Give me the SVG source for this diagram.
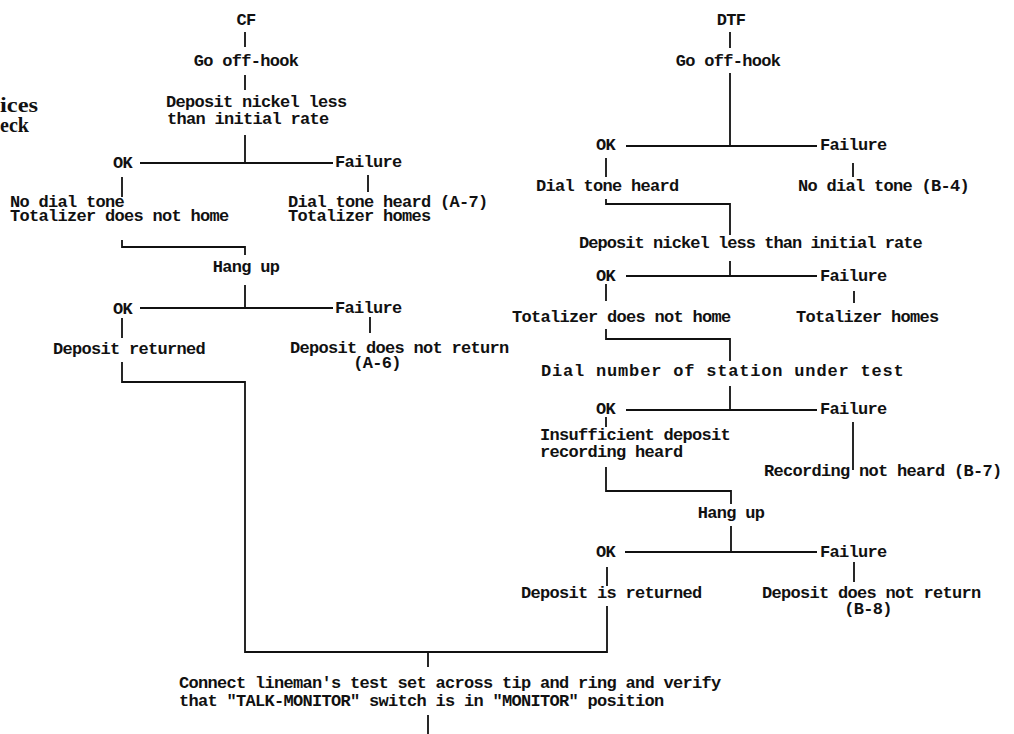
<svg xmlns="http://www.w3.org/2000/svg" width="1014" height="734" viewBox="0 0 1014 734">
<style>
text{font-family:"Liberation Mono","DejaVu Sans Mono",monospace;font-size:17px;letter-spacing:-0.7px;fill:#111;font-weight:bold}
.c{text-anchor:middle}
.serif{font-family:"Liberation Serif","DejaVu Serif",serif;font-size:20px;letter-spacing:0}
.ln{fill:none;stroke:#111;stroke-width:1.8}
</style>
<rect width="1014" height="734" fill="#fff"/>
<g id="side-title">
<text class="serif" x="0" y="112" textLength="38" lengthAdjust="spacingAndGlyphs">ices</text>
<text class="serif" x="0" y="132">eck</text>
</g>
<g id="connectors">
<path class="ln" d="M245 32V47M245 75V90M245 135V163M140 163H333M122 177V197M368 175V192"/>
<path class="ln" d="M122 240V247H245V255M245 285V308M140 308H333M122 318V338M370 317V333"/>
<path class="ln" d="M122 362V382H245V652H607V606M428 652V667M428 715V734"/>
<path class="ln" d="M730 32V48M730 73V146M626 146H817M606 158V177M853 163V177"/>
<path class="ln" d="M606 199V204H730V235M730 261V276M626 276H817M606 284V301M854 291V303"/>
<path class="ln" d="M606 329V339H730V361M730 386V410M626 410H817M606 417V427M853 422V470"/>
<path class="ln" d="M606 467V491H731V504M731 526V552M625 552H817M607 567V586M854 562V582"/>
</g>
<g id="cf"><text class="c" x="246" y="25">CF</text></g>
<g id="cf-offhook"><text class="c" x="246" y="66">Go off-hook</text></g>
<g id="cf-deposit"><text x="166" y="107">Deposit nickel less</text><text x="167" y="124">than initial rate</text></g>
<g id="cf-ok1"><text x="113" y="168">OK</text></g>
<g id="cf-fail1"><text x="335" y="167">Failure</text></g>
<g id="cf-ok1-result"><text x="10" y="207">No dial tone</text><text x="10" y="221">Totalizer does not home</text></g>
<g id="cf-fail1-result"><text x="288" y="207">Dial tone heard (A-7)</text><text x="288" y="221">Totalizer homes</text></g>
<g id="cf-hangup"><text class="c" x="246" y="272">Hang up</text></g>
<g id="cf-ok2"><text x="113" y="314">OK</text></g>
<g id="cf-fail2"><text x="335" y="313">Failure</text></g>
<g id="cf-ok2-result"><text x="53" y="354">Deposit returned</text></g>
<g id="cf-fail2-result"><text x="290" y="353">Deposit does not return</text><text class="c" x="377" y="368">(A-6)</text></g>
<g id="dtf"><text class="c" x="731" y="25">DTF</text></g>
<g id="dtf-offhook"><text class="c" x="728" y="66">Go off-hook</text></g>
<g id="dtf-ok1"><text x="596" y="150">OK</text></g>
<g id="dtf-fail1"><text x="820" y="150">Failure</text></g>
<g id="dtf-ok1-result"><text x="536" y="191">Dial tone heard</text></g>
<g id="dtf-fail1-result"><text x="798" y="191">No dial tone (B-4)</text></g>
<g id="dtf-deposit"><text x="579" y="248" textLength="343">Deposit nickel less than initial rate</text></g>
<g id="dtf-ok2"><text x="596" y="281">OK</text></g>
<g id="dtf-fail2"><text x="820" y="281">Failure</text></g>
<g id="dtf-ok2-result"><text x="512" y="322">Totalizer does not home</text></g>
<g id="dtf-fail2-result"><text x="796" y="322">Totalizer homes</text></g>
<g id="dtf-dial"><text x="541" y="376" textLength="362">Dial number of station under test</text></g>
<g id="dtf-ok3"><text x="596" y="414">OK</text></g>
<g id="dtf-fail3"><text x="820" y="414">Failure</text></g>
<g id="dtf-ok3-result"><text x="540" y="440">Insufficient deposit</text><text x="540" y="457">recording heard</text></g>
<g id="dtf-fail3-result"><text x="764" y="476">Recording not heard (B-7)</text></g>
<g id="dtf-hangup"><text class="c" x="731" y="518">Hang up</text></g>
<g id="dtf-ok4"><text x="596" y="557">OK</text></g>
<g id="dtf-fail4"><text x="820" y="557">Failure</text></g>
<g id="dtf-ok4-result"><text x="521" y="598">Deposit is returned</text></g>
<g id="dtf-fail4-result"><text x="762" y="598">Deposit does not return</text><text class="c" x="868" y="614">(B-8)</text></g>
<g id="connect"><text x="179" y="688">Connect lineman's test set across tip and ring and verify</text><text x="179" y="706">that "TALK-MONITOR" switch is in "MONITOR" position</text></g>
</svg>
